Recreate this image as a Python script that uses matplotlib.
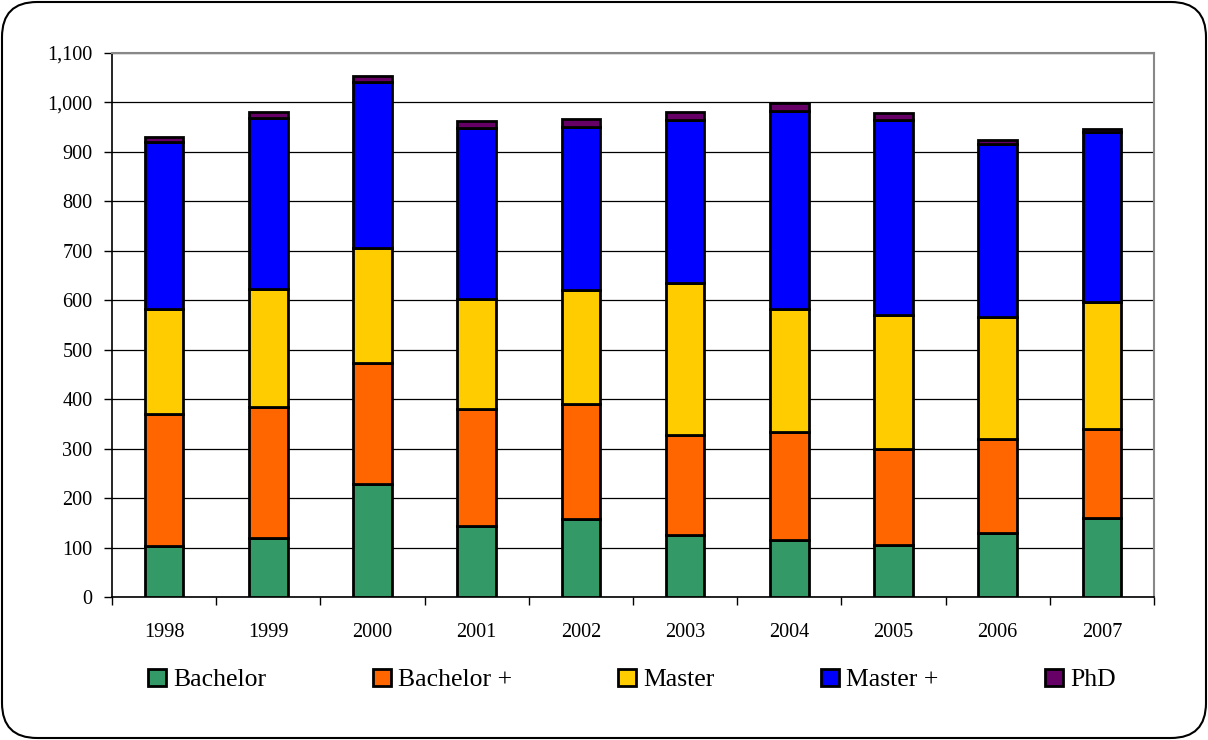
import numpy as np
import matplotlib
matplotlib.use('Agg')
import matplotlib.pyplot as plt
from matplotlib.patches import FancyBboxPatch, Patch
from matplotlib.ticker import MultipleLocator, FuncFormatter

plt.rcParams['font.family'] = ['Liberation Serif', 'DejaVu Serif']

years = ['1998', '1999', '2000', '2001', '2002', '2003', '2004', '2005', '2006', '2007']
bachelor = [103, 120, 229, 143, 158, 126, 116, 105, 130, 159]
bachelor_plus = [267, 265, 245, 238, 233, 202, 217, 194, 190, 181]
master = [212, 237, 231, 221, 229, 307, 250, 271, 246, 256]
master_plus = [338, 346, 337, 346, 331, 329, 400, 394, 350, 345]
phd = [10, 12, 11, 15, 16, 16, 15, 14, 8, 6]

series = [('Bachelor', bachelor, '#339966'),
          ('Bachelor +', bachelor_plus, '#FF6600'),
          ('Master', master, '#FFCC00'),
          ('Master +', master_plus, '#0000FF'),
          ('PhD', phd, '#660066')]

fig = plt.figure(figsize=(12.08, 7.4), dpi=100)
ax = fig.add_axes([112/1208, 1-597/740, (1154-112)/1208, (597-53)/740])

x = np.arange(len(years))
bottom = np.zeros(len(years))
handles = []
for name, vals, col in series:
    ax.bar(x, vals, 0.37, bottom=bottom, color=col, edgecolor='black', linewidth=2, zorder=3)
    bottom += np.array(vals)
    handles.append(Patch(facecolor=col, edgecolor='black', linewidth=2, label=name))

ax.set_xlim(-0.5, len(years)-0.5)
ax.set_ylim(0, 1100)
ax.yaxis.set_major_locator(MultipleLocator(100))
ax.yaxis.set_major_formatter(FuncFormatter(lambda v, p: '{:,.0f}'.format(v)))
ax.grid(axis='y', color='black', linewidth=0.9, zorder=0)

ax.set_xticks(x)
ax.set_xticklabels(years)
ax.set_xticks(np.arange(-0.5, len(years), 1), minor=True)
ax.tick_params(axis='x', which='major', length=0, pad=19, labelsize=14.6)
ax.tick_params(axis='x', which='minor', length=6, width=1, direction='out')
ax.tick_params(axis='y', length=6, width=1, direction='out', labelsize=14.6, pad=8)

for s in ['top', 'right']:
    ax.spines[s].set_color('#888888')
    ax.spines[s].set_linewidth(1.5)
ax.spines['left'].set_linewidth(1.2)
ax.spines['bottom'].set_linewidth(1.2)

fig.legend(handles=handles, loc='center', bbox_to_anchor=(0.523, 1-680/740), ncol=5,
           frameon=False, fontsize=18.5, handlelength=0.7, handleheight=0.7,
           handletextpad=0.27, columnspacing=4.15)

border = FancyBboxPatch((2/1208, 2/740), 1204/1208, 736/740,
                        boxstyle='round,pad=0,rounding_size=0.029',
                        mutation_aspect=1208/740,
                        transform=fig.transFigure, facecolor='none',
                        edgecolor='black', linewidth=1.5)
fig.patches.append(border)

fig.savefig('out.png', dpi=100)
